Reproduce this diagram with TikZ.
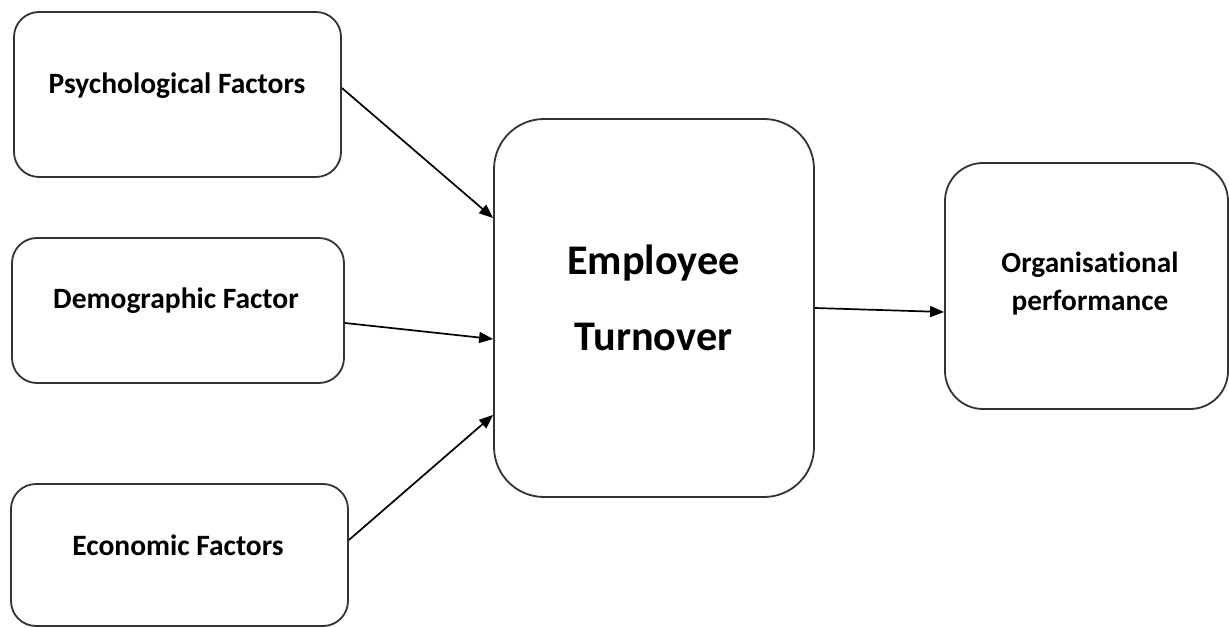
\documentclass[tikz,border=0pt]{standalone}
\usepackage{fontspec}
\setmainfont[Ligatures=NoCommon]{Carlito}
\usetikzlibrary{arrows.meta}
\tikzset{
  box/.style={draw=black!80, line width=1.8pt, fill=white, inner sep=0pt},
  lbl/.style={font=\bfseries\fontsize{29.5}{34}\selectfont, inner sep=0pt, align=center},
  biglbl/.style={font=\bfseries\fontsize{42.2}{76}\selectfont, inner sep=0pt, align=center},
  midlbl/.style={font=\bfseries\fontsize{29.3}{38}\selectfont, inner sep=0pt, align=center},
  conn/.style={draw=black, line width=1.7pt, -{Triangle[length=14pt,width=11pt]}}
}
\begin{document}
\begin{tikzpicture}[x=1pt,y=-1pt]
\useasboundingbox (0,0) rectangle (1229,628);
\fill[white] (0,0) rectangle (1229,628);
% left boxes
\node[box, rounded corners=25pt, minimum width=327pt, minimum height=165pt] (psy) at (177.5,94.5) {};
\node[lbl] (psyt) at (177,85.5) {Psychological Factors};
\node[box, rounded corners=25pt, minimum width=332pt, minimum height=145pt] (dem) at (178,310.5) {};
\node[lbl] (demt) at (176,301) {Demographic Factor};
\node[box, rounded corners=25pt, minimum width=337pt, minimum height=142pt] (eco) at (179.5,555) {};
\node[lbl] (ecot) at (178,545) {Economic Factors};
% center
\node[box, rounded corners=50pt, minimum width=320pt, minimum height=378pt] (emp) at (654,308) {};
\node[biglbl] (empt) at (653.5,298) {Employee\\Turnover};
% right
\node[box, rounded corners=38pt, minimum width=283pt, minimum height=246pt] (org) at (1086.5,286) {};
\node[midlbl] (orgt) at (1090,284) {Organisational\\performance};
% connectors
\draw[conn] ([yshift=6.5pt]psy.east) -- ([yshift=90pt]emp.west);
\draw[conn] ([yshift=-12.5pt]dem.east) -- ([yshift=-31pt]emp.west);
\draw[conn] ([yshift=15pt]eco.east) -- ([yshift=-107pt]emp.west);
\draw[conn] (emp.east) -- ([yshift=-26pt]org.west);
\end{tikzpicture}
\end{document}
